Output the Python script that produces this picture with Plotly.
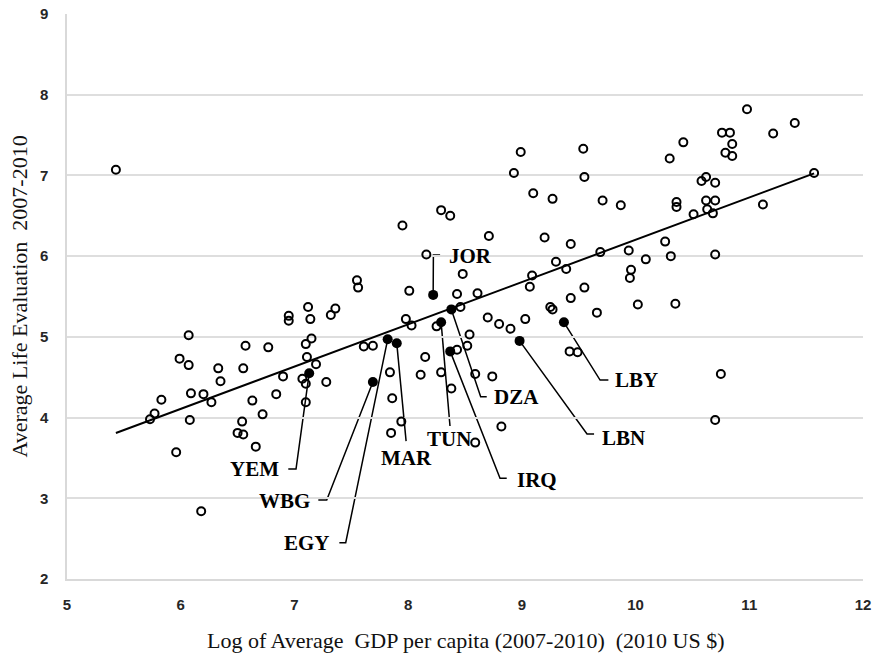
import plotly.graph_objects as go

# Countries outside the region (open circles): log GDP per capita and life evaluation
other_gdp = [
    5.43, 7.55, 7.56, 7.12, 6.95, 6.95, 7.14, 7.36, 7.32, 6.07,
    7.15, 7.10, 6.57, 6.77, 5.99, 6.07, 7.11, 7.19, 6.33, 6.55,
    6.90, 7.07, 7.10, 7.28, 6.35, 6.09, 6.20, 6.27, 6.84, 6.63,
    5.83, 7.10, 5.77, 5.73, 6.72, 6.08, 6.54, 6.50, 6.55, 5.96,
    6.66, 6.18, 7.94, 7.85, 7.86, 8.29, 8.37, 7.95, 8.71, 9.20,
    9.43, 8.16, 8.48, 9.30, 9.39, 9.09, 9.07, 9.69, 9.94, 10.09,
    9.96, 9.95, 9.55, 8.01, 8.43, 8.61, 8.46, 9.43, 9.25, 9.27,
    10.02, 9.66, 7.98, 8.03, 8.25, 8.70, 8.80, 8.90, 9.03, 8.54,
    8.52, 8.43, 8.15, 7.84, 8.11, 8.29, 8.59, 8.74, 9.42, 9.49,
    8.38, 8.82, 8.59, 7.61, 7.69, 8.99, 9.54, 8.93, 9.55, 9.10,
    9.27, 9.71, 9.87, 10.98, 11.40, 11.21, 10.76, 10.83, 10.42, 10.85,
    10.79, 10.85, 10.30, 11.57, 10.62, 10.58, 10.70, 10.36, 10.36, 10.62,
    10.70, 10.63, 10.51, 10.68, 11.12, 10.26, 10.31, 10.70, 10.35, 10.75,
    10.70,
]
other_life = [
    7.07, 5.70, 5.61, 5.37, 5.26, 5.20, 5.22, 5.35, 5.27, 5.02,
    4.98, 4.91, 4.89, 4.87, 4.73, 4.65, 4.75, 4.66, 4.61, 4.61,
    4.51, 4.48, 4.42, 4.44, 4.45, 4.30, 4.29, 4.19, 4.29, 4.21,
    4.22, 4.19, 4.05, 3.98, 4.04, 3.97, 3.95, 3.81, 3.79, 3.57,
    3.64, 2.84, 3.95, 3.81, 4.24, 6.57, 6.50, 6.38, 6.25, 6.23,
    6.15, 6.02, 5.78, 5.93, 5.84, 5.76, 5.62, 6.05, 6.07, 5.96,
    5.83, 5.73, 5.61, 5.57, 5.53, 5.54, 5.37, 5.48, 5.37, 5.34,
    5.40, 5.30, 5.22, 5.14, 5.13, 5.24, 5.16, 5.10, 5.22, 5.03,
    4.89, 4.84, 4.75, 4.56, 4.53, 4.56, 4.54, 4.51, 4.82, 4.81,
    4.36, 3.89, 3.69, 4.88, 4.89, 7.29, 7.33, 7.03, 6.98, 6.78,
    6.71, 6.69, 6.63, 7.82, 7.65, 7.52, 7.53, 7.53, 7.41, 7.39,
    7.28, 7.24, 7.21, 7.03, 6.98, 6.93, 6.91, 6.67, 6.61, 6.69,
    6.69, 6.58, 6.52, 6.53, 6.64, 6.18, 6.00, 6.02, 5.41, 4.54,
    3.97,
]

# Middle East and North Africa (filled circles)
mena_codes = ["JOR", "DZA", "TUN", "IRQ", "LBY", "LBN", "EGY", "MAR", "WBG", "YEM"]
mena_gdp = [8.22, 8.38, 8.29, 8.37, 9.37, 8.98, 7.82, 7.90, 7.69, 7.13]
mena_life = [5.52, 5.34, 5.18, 4.82, 5.18, 4.95, 4.97, 4.92, 4.44, 4.55]

# Linear fit of life evaluation on log GDP
fit_intercept = 0.963
fit_slope = 0.524

# Callout layout: bend point(s) of each leader line and where its label sits
callouts = {
    "JOR": dict(bends=[(8.222, 6.014), (8.281, 6.014)], label=(8.339, 6.00), anchor="left"),
    "DZA": dict(bends=[(8.638, 4.258), (8.691, 4.258)], label=(8.735, 4.25), anchor="left"),
    "TUN": dict(bends=[(8.368, 3.895)], label=(8.360, 3.74), anchor="center"),
    "IRQ": dict(bends=[(8.808, 3.247), (8.867, 3.247)], label=(8.940, 3.23), anchor="left"),
    "LBY": dict(bends=[(9.688, 4.465), (9.761, 4.465)], label=(9.805, 4.46), anchor="left"),
    "LBN": dict(bends=[(9.573, 3.796), (9.635, 3.796)], label=(9.688, 3.75), anchor="left"),
    "EGY": dict(bends=[(7.451, 2.449), (7.395, 2.449)], label=(7.328, 2.44), anchor="right"),
    "MAR": dict(bends=[(7.982, 3.709)], label=(7.984, 3.50), anchor="center"),
    "WBG": dict(bends=[(7.284, 2.978), (7.210, 2.978)], label=(7.152, 2.97), anchor="right"),
    "YEM": dict(bends=[(7.014, 3.362), (6.946, 3.362)], label=(6.882, 3.36), anchor="right"),
}

x_range = [5, 12]
y_range = [2, 9]
x_ticks = [5, 6, 7, 8, 9, 10, 11, 12]
y_ticks = [2, 3, 4, 5, 6, 7, 8, 9]

x_title = "Log of Average\u00a0 GDP per capita (2007-2010)\u00a0 (2010 US $)"
y_title = "Average Life Evaluation\u00a0 2007-2010"

serif = "Liberation Serif, Times New Roman, serif"
sans = "Liberation Sans, Arial, sans-serif"

all_gdp = other_gdp + mena_gdp
fit_x = [min(all_gdp), max(all_gdp)]
fit_y = [fit_intercept + fit_slope * v for v in fit_x]

fig = go.Figure()

fig.add_trace(go.Scatter(
    x=fit_x, y=fit_y, mode="lines",
    line=dict(color="black", width=2),
    hoverinfo="skip", showlegend=False,
))

fig.add_trace(go.Scatter(
    x=other_gdp, y=other_life, mode="markers",
    marker=dict(symbol="circle-open", size=8, color="black", line=dict(width=2)),
    showlegend=False,
))

fig.add_trace(go.Scatter(
    x=mena_gdp, y=mena_life, mode="markers", text=mena_codes,
    marker=dict(symbol="circle", size=10, color="black"),
    showlegend=False,
))

shapes = []
annotations = []
for code, gx, ly in zip(mena_codes, mena_gdp, mena_life):
    c = callouts[code]
    path = f"M {gx},{ly}" + "".join(f" L {bx},{by}" for bx, by in c["bends"])
    shapes.append(dict(
        type="path", xref="x", yref="y", path=path,
        line=dict(color="black", width=1.5), layer="below",
    ))
    lx, lyy = c["label"]
    annotations.append(dict(
        x=lx, y=lyy, xref="x", yref="y", text=code, showarrow=False,
        xanchor=c["anchor"], yanchor="middle",
        font=dict(family=serif, size=21, color="black", weight="bold"),
    ))

annotations.append(dict(
    x=0.5, y=-0.108, xref="paper", yref="paper", text=x_title, showarrow=False,
    xanchor="center", yanchor="middle",
    font=dict(family=serif, size=22, color="#111"),
))
annotations.append(dict(
    x=-0.0603, y=0.5, xref="paper", yref="paper", text=y_title, showarrow=False,
    xanchor="center", yanchor="middle", textangle=-90,
    font=dict(family=serif, size=22, color="#111"),
))

fig.update_layout(
    width=875, height=655,
    margin=dict(l=67, r=12, t=14, b=76, autoexpand=False),
    paper_bgcolor="white", plot_bgcolor="white",
    shapes=shapes, annotations=annotations,
    xaxis=dict(
        range=x_range, tickvals=x_ticks, showgrid=False, zeroline=False,
        showline=True, linecolor="#d9d9d9", linewidth=1.5, automargin=False,
        ticks="", ticklabelstandoff=11,
        tickfont=dict(family=sans, size=15, color="#262626", weight="bold"),
    ),
    yaxis=dict(
        range=y_range, tickvals=y_ticks, showgrid=True, gridcolor="#dedede", gridwidth=1.5,
        zeroline=False, showline=True, linecolor="#d9d9d9", linewidth=1.5, automargin=False,
        ticks="", ticklabelstandoff=14,
        tickfont=dict(family=sans, size=15, color="#262626", weight="bold"),
    ),
)

fig.write_html("out.html")
